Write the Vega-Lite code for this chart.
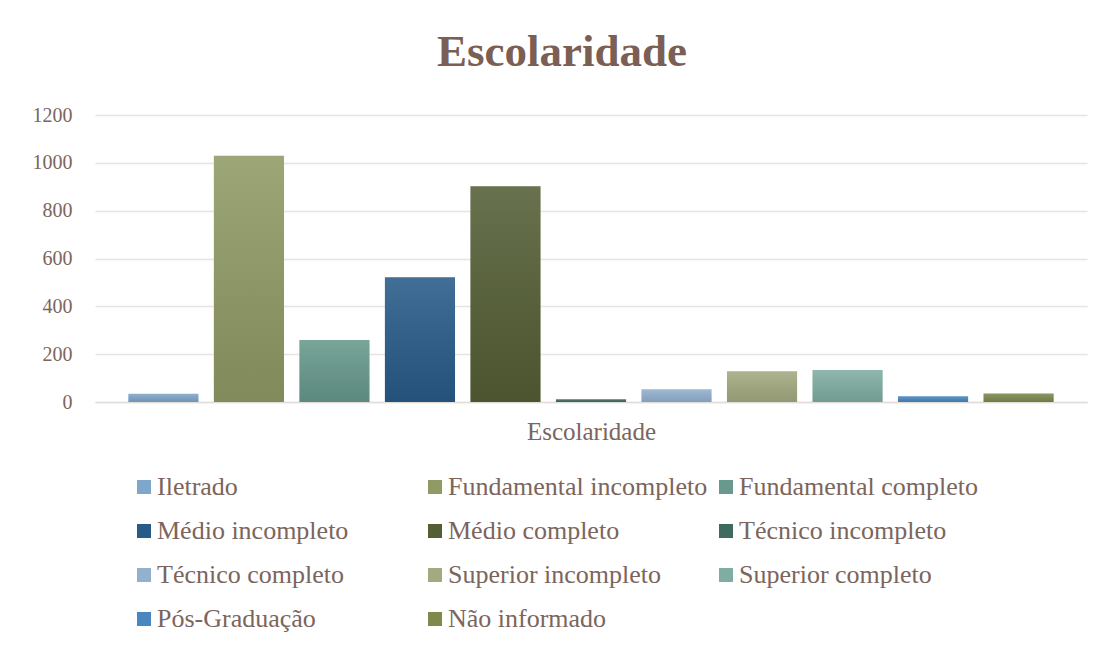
{
  "$schema": "https://vega.github.io/schema/vega-lite/v6.json",
  "width": 992,
  "height": 287,
  "autosize": {"type": "none"},
  "padding": {"left": 95, "top": 115, "right": 16, "bottom": 246},
  "background": "white",
  "config": {
    "font": "Liberation Serif",
    "view": {"stroke": null},
    "axis": {"labelColor": "#7b655c", "titleColor": "#7b655c", "labelFont": "Liberation Serif", "titleFont": "Liberation Serif"},
    "legend": {"labelColor": "#7b655c", "labelFont": "Liberation Serif"}
  },
  "title": {
    "text": "Escolaridade",
    "fontSize": 45,
    "fontWeight": "bold",
    "color": "#7b5f55",
    "font": "Liberation Serif",
    "anchor": "middle",
    "baseline": "alphabetic",
    "offset": -6,
    "dx": -29
  },
  "data": {
    "values": [
      {"cat": "Iletrado", "valor": 35},
      {"cat": "Fundamental incompleto", "valor": 1030},
      {"cat": "Fundamental completo", "valor": 259},
      {"cat": "Médio incompleto", "valor": 522},
      {"cat": "Médio completo", "valor": 902},
      {"cat": "Técnico incompleto", "valor": 11},
      {"cat": "Técnico completo", "valor": 53},
      {"cat": "Superior incompleto", "valor": 129},
      {"cat": "Superior completo", "valor": 134},
      {"cat": "Pós-Graduação", "valor": 24},
      {"cat": "Não informado", "valor": 36}
    ]
  },
  "encoding": {
    "x": {
      "field": "cat",
      "type": "nominal",
      "sort": null,
      "scale": {"paddingInner": 0.18, "paddingOuter": 0.39},
      "axis": {
        "title": "Escolaridade",
        "titleFontSize": 25,
        "titleFontWeight": "normal",
        "titlePadding": 17,
        "labels": false,
        "ticks": false,
        "domainColor": "#e3ddd9",
        "domainWidth": 1.5
      }
    },
    "y": {
      "field": "valor",
      "type": "quantitative",
      "scale": {"domain": [0, 1200]},
      "axis": {
        "title": null,
        "values": [0, 200, 400, 600, 800, 1000, 1200],
        "format": "d",
        "labelFontSize": 20,
        "labelPadding": 23,
        "ticks": false,
        "domain": false,
        "gridColor": "#e8e3e0",
        "gridWidth": 1.5
      }
    }
  },
  "layer": [
    {
      "mark": {"type": "bar"},
      "encoding": {
        "color": {
          "field": "cat",
          "type": "nominal",
          "sort": null,
          "scale": {
            "domain": ["Iletrado", "Fundamental incompleto", "Fundamental completo", "Médio incompleto", "Médio completo", "Técnico incompleto", "Técnico completo", "Superior incompleto", "Superior completo", "Pós-Graduação", "Não informado"],
            "range": ["#7fa6cb", "#8f9a64", "#67998c", "#285b88", "#545e35", "#3e6b5f", "#93b1cf", "#a3aa80", "#7fada2", "#4a86bf", "#7d8a4c"]
          },
          "legend": {
            "title": null,
            "orient": "none",
            "legendX": 36,
            "legendY": 359,
            "direction": "horizontal",
            "columns": 3,
            "gridAlign": "all",
            "columnPadding": 5,
            "rowPadding": 18,
            "padding": 0,
            "symbolType": "square",
            "symbolSize": 196,
            "symbolStrokeWidth": 0,
            "labelFontSize": 26,
            "labelOffset": 0,
            "labelLimit": 400
          }
        }
      }
    },
    {
      "mark": {
        "type": "bar",
        "color": {
          "gradient": "linear",
          "x1": 0, "y1": 0, "x2": 0, "y2": 1,
          "stops": [
            {"offset": 0, "color": "rgba(255,255,255,0.12)"},
            {"offset": 1, "color": "rgba(0,0,0,0.10)"}
          ]
        }
      }
    }
  ]
}
